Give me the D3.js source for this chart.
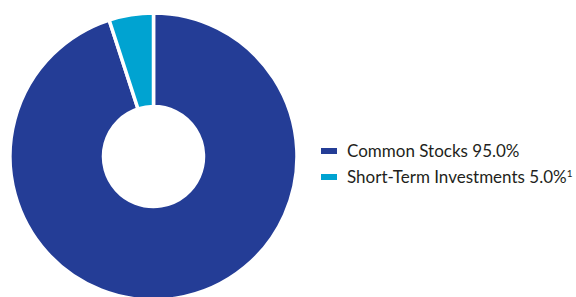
<!DOCTYPE html>
<html>
<head>
<meta charset="utf-8">
<script src="https://cdn.jsdelivr.net/npm/d3@7"></script>
<style>
  html, body { margin: 0; padding: 0; background: #fff; }
  svg { display: block; }
</style>
</head>
<body>
<div id="chart"></div>
<script>
const width = 576, height = 297;

// chart data
const categories = ["Common Stocks", "Short-Term Investments"];
const values = [95.0, 5.0];
const labels = ["Common Stocks 95.0%", "Short-Term Investments 5.0%"];
const footnotes = ["", "1"];
const colors = ["#243D96", "#00A3D1"];

const cx = 153.5, cy = 156.5;
const outerR = 143.5, innerR = 50;

const svg = d3.select("#chart")
    .append("svg")
    .attr("width", width)
    .attr("height", height);

const pie = d3.pie()
    .sort(null)
    .value(d => d);

const arc = d3.arc()
    .innerRadius(innerR)
    .outerRadius(outerR);

const color = d3.scaleOrdinal()
    .domain(categories)
    .range(colors);

svg.append("g")
    .attr("transform", `translate(${cx},${cy})`)
    .selectAll("path")
    .data(pie(values))
    .enter().append("path")
    .attr("d", arc)
    .style("fill", (d, i) => color(categories[i]))
    .style("stroke", "#fff")
    .style("stroke-width", 3.5)
    .style("stroke-linejoin", "miter");

// legend
const legend = svg.append("g")
    .attr("transform", "translate(321,0)");

const y = d3.scaleBand()
    .domain(categories)
    .range([138, 190]);

const rows = legend.selectAll("g.row")
    .data(categories)
    .enter().append("g")
    .attr("class", "row")
    .attr("transform", d => `translate(0,${y(d) + y.bandwidth() / 2})`);

rows.append("rect")
    .attr("x", 0)
    .attr("y", -3)
    .attr("width", 16)
    .attr("height", 6)
    .style("fill", d => color(d));

const txt = rows.append("text")
    .attr("x", 26)
    .attr("y", 6)
    .style("font-family", "Lato, 'Open Sans', sans-serif")
    .style("font-size", "17px")
    .style("fill", "#231F20");

txt.append("tspan")
    .text((d, i) => labels[i]);

txt.append("tspan")
    .attr("dy", -6)
    .style("font-size", "10px")
    .text((d, i) => footnotes[i]);
</script>
</body>
</html>
